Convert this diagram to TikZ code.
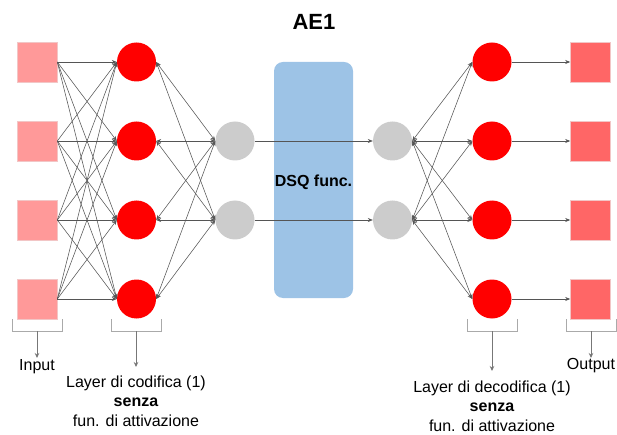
\documentclass[tikz,border=0pt]{standalone}
\usepackage{fontspec}
\setmainfont{Liberation Sans}
\usetikzlibrary{arrows.meta}
\definecolor{inpink}{HTML}{FF9999}
\definecolor{outpink}{HTML}{FF6666}
\definecolor{sqborder}{HTML}{F2C6C6}
\definecolor{redn}{HTML}{FF0000}
\definecolor{grayn}{HTML}{CCCCCC}
\definecolor{boxblue}{HTML}{9DC3E6}
\definecolor{edge}{HTML}{555555}
\definecolor{brk}{HTML}{AAAAAA}
\definecolor{brkarrow}{HTML}{777777}
\tikzset{
  insq/.style={rectangle, fill=inpink, draw=sqborder, line width=0.6pt, minimum size=40pt, inner sep=0pt},
  outsq/.style={rectangle, fill=outpink, draw=sqborder, line width=0.6pt, minimum size=40pt, inner sep=0pt},
  redc/.style={circle, fill=redn, minimum size=39pt, inner sep=0pt},
  grayc/.style={circle, fill=grayn, minimum size=39pt, inner sep=0pt},
  conn/.style={draw=edge, line width=0.55pt, -{Stealth[length=5pt,width=4pt]}},
  bconn/.style={draw=edge, line width=0.55pt, {Stealth[length=5pt,width=4pt]}-{Stealth[length=5pt,width=4pt]}},
  bracketline/.style={draw=brk, line width=0.8pt},
  downarrow/.style={draw=brkarrow, line width=0.8pt, -{Stealth[length=5pt,width=4.5pt]}},
  lbl/.style={font=\fontsize{16}{19.5}\selectfont, align=center, inner sep=0pt},
}
\begin{document}
\begin{tikzpicture}[x=1pt,y=-1pt]
\useasboundingbox (0,0) rectangle (617,435);
% title
\node[font=\fontsize{22}{24}\selectfont\bfseries] (title) at (314,22) {AE1};
% DSQ box
\node[rectangle, rounded corners=9pt, fill=boxblue, minimum width=79pt, minimum height=236pt, inner sep=0pt] (dsq) at (313.5,180) {};
\node[font=\fontsize{16}{18}\selectfont\bfseries] (dsqtext) at (313.5,182) {DSQ func.};
% nodes
\foreach \i/\y in {1/62,2/141,3/220,4/299}{
  \node[insq] (in\i) at (37,\y) {};
  \node[redc] (r\i) at (136.5,\y) {};
  \node[redc] (rr\i) at (492,\y) {};
  \node[outsq] (out\i) at (590.5,\y) {};
}
\node[grayc] (g1) at (235,141) {};
\node[grayc] (g2) at (235,220) {};
\node[grayc] (rg1) at (392.5,141) {};
\node[grayc] (rg2) at (392.5,220) {};
% connections
\foreach \i in {1,...,4}{
  \foreach \j in {1,...,4}{
    \draw[conn] (in\i.east) -- (r\j.west);
  }
  \foreach \k in {1,2}{
    \draw[bconn] (r\i.east) -- (g\k.west);
    \draw[bconn] (rg\k.east) -- (rr\i.west);
  }
  \draw[conn] (rr\i.east) -- (out\i.west);
}
\draw[conn] (g1.east) -- (rg1.west);
\draw[conn] (g2.east) -- (rg2.west);
% brackets
\draw[bracketline] (12,319) -- (12,331) -- (62,331) -- (62,319);
\draw[bracketline] (111,319) -- (111,331) -- (161,331) -- (161,319);
\draw[bracketline] (467,319) -- (467,331) -- (517,331) -- (517,319);
\draw[bracketline] (566,319) -- (566,331) -- (616,331) -- (616,319);
\coordinate (bin) at (37,331);
\coordinate (benc) at (136,331);
\coordinate (bdec) at (492,331);
\coordinate (bout) at (591,331);
\coordinate (ein) at (37,358);
\coordinate (eenc) at (136,367);
\coordinate (edec) at (492,371);
\coordinate (eout) at (591,358);
% labels
\node[lbl] (linput) at (37,367) {Input};
\node[lbl] (loutput) at (591,366) {Output};
\node[lbl] (lenc) at (136,401) {Layer di codifica (1)\\\textbf{senza}\\fun. di attivazione};
\node[lbl] (ldec) at (492,406) {Layer di decodifica (1)\\\textbf{senza}\\fun. di attivazione};
\draw[downarrow] (bin) -- (ein);
\draw[downarrow] (benc) -- (eenc);
\draw[downarrow] (bdec) -- (edec);
\draw[downarrow] (bout) -- (eout);
\end{tikzpicture}
\end{document}
